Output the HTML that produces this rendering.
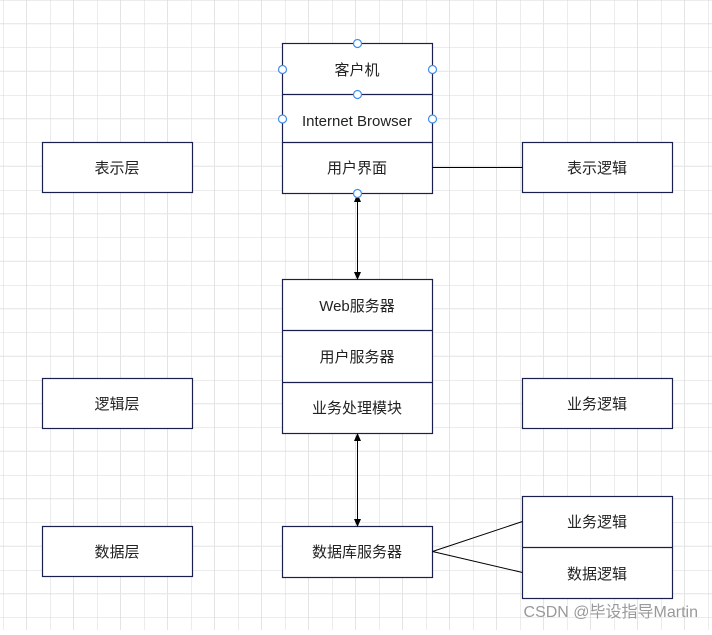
<!DOCTYPE html>
<html><head><meta charset="utf-8"><style>
body{margin:0;width:712px;height:630px;overflow:hidden;background:#fff;font-family:"Liberation Sans","Noto Sans CJK SC",sans-serif}
</style></head><body>
<svg width="712" height="630" xmlns="http://www.w3.org/2000/svg">
<defs>
<pattern id="g" x="3" y="0" width="47" height="47.5" patternUnits="userSpaceOnUse">
<path d="M0 0V47.5M23.5 0V47.5M0 0H47M0 23.7H47" stroke="#e4e4e4" stroke-width="1" fill="none"/>
<path d="M0 0V47.5M0 0H47" stroke="#d8d8d8" stroke-width="1" fill="none"/>
</pattern>
<marker id="a" markerWidth="8" markerHeight="8" refX="7" refY="4" orient="auto-start-reverse" markerUnits="userSpaceOnUse"><path d="M0 0.5L8 4L0 7.5Z" fill="#000"/></marker>
</defs>
<rect x="0" y="0" width="712" height="630" fill="url(#g)"/>
<g fill="#fff" stroke="#1a1f4e" stroke-width="1.2">
<rect x="42.5" y="142.5" width="150" height="50"/>
<rect x="42.5" y="378.5" width="150" height="50"/>
<rect x="42.5" y="526.5" width="150" height="50"/>
<rect x="282.5" y="43.5" width="150" height="150"/>
<rect x="282.5" y="279.5" width="150" height="154"/>
<rect x="282.5" y="526.5" width="150" height="51"/>
<rect x="522.5" y="142.5" width="150" height="50"/>
<rect x="522.5" y="378.5" width="150" height="50"/>
<rect x="522.5" y="496.5" width="150" height="102"/>
<path d="M282.5 94.5H432.5M282.5 142.5H432.5M282.5 330.5H432.5M282.5 382.5H432.5M522.5 547.5H672.5" fill="none"/>
</g>
<g stroke="#000" stroke-width="1" fill="none">
<path d="M432.5 167.5H522.5"/>
<path d="M432.5 551.5L522.5 521.5M432.5 551.5L522.5 572.5"/>
<path d="M357.5 195V279" marker-start="url(#a)" marker-end="url(#a)"/>
<path d="M357.5 434V526" marker-start="url(#a)" marker-end="url(#a)"/>
</g>
<g fill="#fff" stroke="#3d8ef0" stroke-width="1.2">
<circle cx="357.5" cy="43.5" r="4"/><circle cx="282.5" cy="69.5" r="4"/><circle cx="432.5" cy="69.5" r="4"/>
<circle cx="357.5" cy="94.5" r="4"/><circle cx="282.5" cy="119" r="4"/><circle cx="432.5" cy="119" r="4"/>
<circle cx="357.5" cy="193.5" r="4"/>
</g>
<g font-size="15" fill="#222" text-anchor="middle" font-family="Liberation Sans,Noto Sans CJK SC,sans-serif">
<text x="117" y="173">表示层</text>
<text x="117" y="409">逻辑层</text>
<text x="117" y="557">数据层</text>
<text x="357" y="75">客户机</text>
<text x="357" y="126">Internet Browser</text>
<text x="357" y="173">用户界面</text>
<text x="357" y="311">Web服务器</text>
<text x="357" y="362">用户服务器</text>
<text x="357" y="413">业务处理模块</text>
<text x="357" y="557">数据库服务器</text>
<text x="597" y="173">表示逻辑</text>
<text x="597" y="409">业务逻辑</text>
<text x="597" y="527">业务逻辑</text>
<text x="597" y="579">数据逻辑</text>
</g>
<text x="698" y="617" font-size="16" fill="#999" text-anchor="end" font-family="Liberation Sans,Noto Sans CJK SC,sans-serif">CSDN @毕设指导Martin</text>
</svg>
</body></html>
